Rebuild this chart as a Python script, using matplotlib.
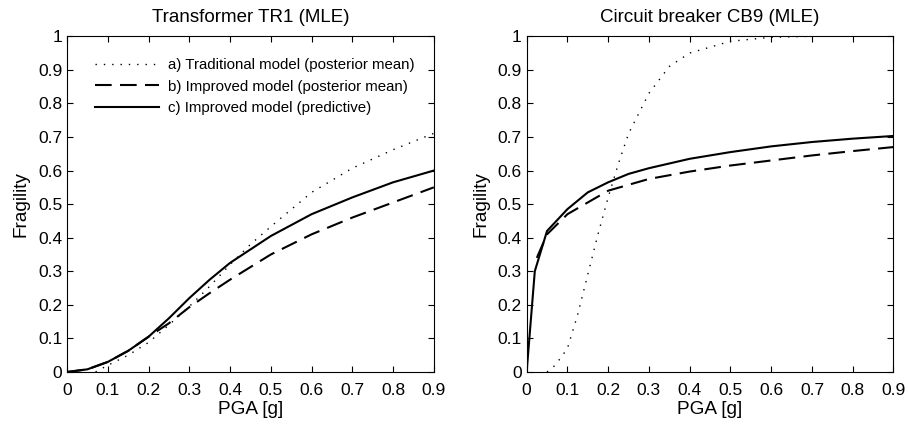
import numpy as np
import matplotlib as mpl
mpl.use('Agg')
from matplotlib import pyplot as plt

#------------------ FONT_setup ----------------------
plt.rcParams['font.family'] = ['Liberation Sans', 'DejaVu Sans']
plt.rcParams['xtick.direction'] = 'in'
plt.rcParams['ytick.direction'] = 'in'
plt.rcParams['xtick.top'] = True
plt.rcParams['ytick.right'] = True

#------------------- Data ----------------------
legend_labels = ['a) Traditional model (posterior mean)',
                 'b) Improved model (posterior mean)',
                 'c) Improved model (predictive)']
xticks = [0, 0.1, 0.2, 0.3, 0.4, 0.5, 0.6, 0.7, 0.8, 0.9]
xtick_labels = ['0', '0.1', '0.2', '0.3', '0.4', '0.5', '0.6', '0.7', '0.8', '0.9']
yticks = [0, 0.1, 0.2, 0.3, 0.4, 0.5, 0.6, 0.7, 0.8, 0.9, 1.0]
ytick_labels = ['0', '0.1', '0.2', '0.3', '0.4', '0.5', '0.6', '0.7', '0.8', '0.9', '1']

# Transformer TR1
tr_trad_x = [0.07, 0.1, 0.15, 0.2, 0.25, 0.3, 0.35, 0.4, 0.45, 0.5, 0.6, 0.7, 0.8, 0.9]
tr_trad_y = [0.0, 0.02, 0.05, 0.088, 0.14, 0.195, 0.255, 0.32, 0.38, 0.433, 0.535, 0.607, 0.662, 0.711]
tr_impr_x = [0.0, 0.05, 0.1, 0.15, 0.2, 0.25, 0.3, 0.35, 0.4, 0.5, 0.6, 0.7, 0.8, 0.9]
tr_impr_y = [0.0, 0.008, 0.03, 0.063, 0.105, 0.145, 0.193, 0.235, 0.275, 0.35, 0.41, 0.46, 0.505, 0.55]
tr_pred_x = [0.0, 0.05, 0.1, 0.15, 0.2, 0.25, 0.3, 0.35, 0.4, 0.45, 0.5, 0.6, 0.7, 0.8, 0.9]
tr_pred_y = [0.0, 0.008, 0.03, 0.063, 0.105, 0.16, 0.22, 0.275, 0.325, 0.365, 0.405, 0.47, 0.52, 0.565, 0.60]

# Circuit breaker CB9
cb_trad_x = [0.05, 0.07, 0.1, 0.125, 0.15, 0.175, 0.2, 0.225, 0.25, 0.3, 0.35, 0.4, 0.5, 0.6, 0.7, 0.9]
cb_trad_y = [0.0, 0.02, 0.07, 0.17, 0.29, 0.41, 0.52, 0.62, 0.71, 0.83, 0.91, 0.95, 0.985, 0.997, 1.0, 1.0]
cb_impr_x = [0.025, 0.05, 0.1, 0.15, 0.2, 0.3, 0.4, 0.5, 0.6, 0.7, 0.8, 0.9]
cb_impr_y = [0.34, 0.41, 0.47, 0.505, 0.54, 0.575, 0.597, 0.615, 0.63, 0.645, 0.658, 0.67]
cb_pred_x = [0.0, 0.02, 0.05, 0.1, 0.15, 0.2, 0.25, 0.3, 0.4, 0.5, 0.6, 0.7, 0.8, 0.9]
cb_pred_y = [0.0, 0.30, 0.42, 0.485, 0.535, 0.565, 0.59, 0.607, 0.635, 0.655, 0.672, 0.685, 0.695, 0.703]

#--------------------- PLOTs ------------------------
fig = plt.figure(figsize=(9.08, 4.25), dpi=100)
ax1 = fig.add_axes([0.0738, 0.1247, 0.404, 0.79])
ax2 = fig.add_axes([0.580, 0.1247, 0.404, 0.79])

dot = (0, (1, 5))
dash = (0, (8, 4))
for ax, data, title in [
        (ax1, (tr_trad_x, tr_trad_y, tr_impr_x, tr_impr_y, tr_pred_x, tr_pred_y), 'Transformer TR1 (MLE)'),
        (ax2, (cb_trad_x, cb_trad_y, cb_impr_x, cb_impr_y, cb_pred_x, cb_pred_y), 'Circuit breaker CB9 (MLE)')]:
    ax.plot(data[0], data[1], color='black', linestyle=dot, linewidth=1.0, label=legend_labels[0])
    ax.plot(data[2], data[3], color='black', linestyle=dash, linewidth=1.5, label=legend_labels[1])
    ax.plot(data[4], data[5], color='black', linestyle='-', linewidth=1.5, label=legend_labels[2])
    ax.set_xlim(0, 0.9)
    ax.set_ylim(0, 1)
    ax.set_xticks(xticks)
    ax.set_xticklabels(xtick_labels)
    ax.set_yticks(yticks)
    ax.set_yticklabels(ytick_labels)
    ax.tick_params(labelsize=12.5, length=4, width=0.8)
    ax.tick_params(axis='x', pad=8)
    ax.tick_params(axis='y', pad=3.5)
    ax.set_xlabel('PGA [g]', fontsize=13.7, labelpad=2)
    ax.set_ylabel('Fragility', fontsize=13.7, labelpad=6)
    ax.set_title(title, fontsize=13.5, pad=10)
    for s in ax.spines.values():
        s.set_linewidth(0.8)

ax1.legend(loc='upper left', bbox_to_anchor=(0.04, 0.975), frameon=False, fontsize=10.8,
           handlelength=4.25, handletextpad=0.6, labelspacing=0.5)

fig.savefig('out.png', dpi=100)
